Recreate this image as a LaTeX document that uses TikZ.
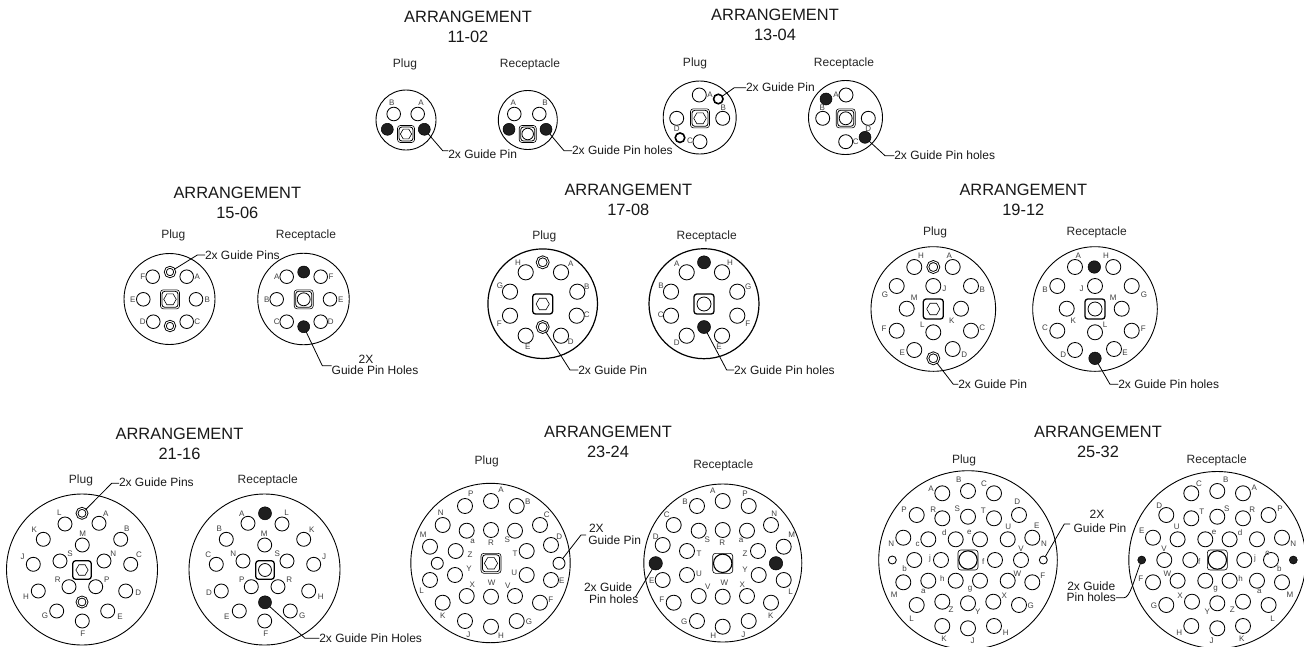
\documentclass[tikz,border=0pt]{standalone}
\usepackage{fontspec}
\setmainfont{Liberation Sans}
\usetikzlibrary{shapes.geometric}
\def\psz{14.6pt}
\tikzset{
  basecirc/.style={circle,inner sep=0pt,outer sep=0pt,draw=black},
  shell/.style={basecirc,line width=0.9pt},
  pinc/.style={basecirc,line width=0.85pt,minimum size=\psz},
  ghole/.style={basecirc,fill=black!88,line width=0.5pt,minimum size=#1},
  gring/.style={basecirc,line width=0.9pt,double=white,double distance=0.9pt,minimum size=#1},
  gthick/.style={basecirc,line width=1.6pt,minimum size=#1},
  gsmall/.style={basecirc,line width=0.85pt,minimum size=#1},
  pinlab/.style={inner sep=0pt,text=black!75,font=\fontsize{8}{8}\selectfont},
  title/.style={inner sep=0pt,text=black!90,align=center,font=\fontsize{16.4}{20}\selectfont},
  sublab/.style={inner sep=0pt,text=black!85,font=\fontsize{12}{12}\selectfont},
  note/.style={inner sep=0pt,outer sep=0pt,anchor=west,text=black!90,font=\fontsize{12}{12}\selectfont},
  notec/.style={inner sep=0pt,outer sep=0pt,anchor=center,text=black!90,font=\fontsize{12}{12}\selectfont},
  leader/.style={line width=0.8pt,draw=black},
  sqd/.style={rectangle,rounded corners=2.8pt,inner sep=0pt,outer sep=0pt,draw=black,line width=#1},
  hexa/.style={regular polygon,regular polygon sides=6,inner sep=0pt,outer sep=0pt,draw=black,line width=0.6pt,minimum size=#1},
  innerc/.style={basecirc,line width=0.8pt,minimum size=#1},
}
% list of pins: letter/x/y
\newcommand{\pinset}[2]{\foreach \pl/\px/\py in #2 {\node[pinc] (#1\pl) at (\px,\py) {};}}
% mirrored about x = M/2
\newcommand{\mpinset}[3]{\foreach \pl/\px/\py in #3 {\pgfmathsetmacro{\qx}{#2-\px}\node[pinc] (#1\pl) at (\qx,\py) {};}}
\newcommand{\labset}[2]{\foreach \pl/\px/\py in #2 {\node[pinlab] (#1\pl t) at (\px,\py) {\pl};}}
% centre inserts
\newcommand{\plugcore}[4]{% name,x,y,size
  \node[sqd=1.3pt,minimum size=#4] (#1o) at (#2,#3) {};
  \node[hexa=0.66*#4] (#1h) at (#2,#3) {};}
\newcommand{\plugcored}[4]{%
  \node[sqd=0.6pt,minimum size=#4] (#1o) at (#2,#3) {};
  \node[sqd=0.8pt,minimum size=#4-3pt] (#1i) at (#2,#3) {};
  \node[hexa=0.66*#4] (#1h) at (#2,#3) {};}
\newcommand{\reccore}[4]{%
  \node[sqd=0.6pt,minimum size=#4] (#1o) at (#2,#3) {};
  \node[sqd=0.8pt,minimum size=#4-3pt] (#1i) at (#2,#3) {};
  \node[innerc=0.68*#4] (#1h) at (#2,#3) {};}
\newcommand{\reccoret}[4]{%
  \node[sqd=1.3pt,minimum size=#4] (#1o) at (#2,#3) {};
  \node[innerc=0.7*#4] (#1h) at (#2,#3) {};}
\newcommand{\bigcore}[4]{%
  \node[sqd=0.6pt,minimum size=#4] (#1o) at (#2,#3) {};
  \node[innerc=0.92*#4,line width=1.1pt] (#1h) at (#2,#3) {};}

\def\pinsPXXI{A/99/523.3,L/65/524,K/43.3/539.3,M/82.3/545,B/120.7/539.3,J/33.3/564.3,S/60/561,N/104/561,C/130.7/564.3,R/69/586.7,P/95.7/586.7,H/38.3/591,D/125.7/591,G/56.7/611,E/107.7/611,F/82.3/621}
\def\pinsPXXIII{A/491/501,P/465/506,B/516.7/506,N/442.7/525,C/540/525,a/466.7/530.7,R/491/530,S/515/530.7,M/430/546.7,D/551/545,Z/455.7/551,T/526.7/551,Y/455/575,U/526.7/575,L/430/580,E/551/580,X/466.7/596,W/491/596.7,V/515/596,K/442.7/602.7,F/540/602.7,J/465/621,G/516.7/621,H/491/626.7}
\def\pinsPXXV{A/942.3/493.3,B/968/491,C/994/493.3,D/1019/515,P/916.7/515,R/942.3/518.3,S/968/516.7,T/994/518.3,N/903.3/537.7,c/928.3/539.3,d/955.7/539.3,e/980/539.3,U/1007.7/539.3,E/1032.3/537.7,b/914.3/560,j/941/560,f/995/560,V/1021/560,M/903.3/582.3,a/928.3/580.7,h/955.7/580.7,g/980/580.7,W/1007.7/580.7,F/1032.3/582.3,L/916.7/605,Z/942.3/601.7,Y/968/603.3,X/993.3/601.7,G/1019/605,K/942.3/626,J/968/628.3,H/994/626}

\begin{document}
\begin{tikzpicture}[x=1pt,y=-1pt]
\useasboundingbox (0,0) rectangle (1304,646);
\clip (0,0) rectangle (1304,646);
\fill[white] (0,0) rectangle (1304,646);

%%%%%%%% 11-02
\def\psz{13.6pt}
\node[title] (t11) at (468,27) {ARRANGEMENT\\11-02};
\node[sublab] (t11p) at (405,64) {Plug};
\node[sublab] (t11r) at (530,64.5) {Receptacle};
\node[shell,minimum size=60pt] (s11p) at (406,120) {};
\pinset{p11}{{B/393.7/114,A/417.7/114}}
\labset{lp11}{{B/391.7/102.3,A/421/102.3}}
\node[ghole=12pt] (g11a) at (387.3,129.3) {};
\node[ghole=12pt] (g11b) at (424.3,129.3) {};
\plugcored{c11p}{406}{134}{17pt}
\node[note] (n11p) at (448.3,154) {2x Guide Pin};
\coordinate (b11p) at (442.7,150.7);
\draw[leader] (g11b) -- (b11p) -- (b11p -| n11p.west);
\node[shell,minimum size=59pt] (s11r) at (527.8,120) {};
\pinset{r11}{{A/514.3/114,B/539.3/114}}
\labset{lr11}{{A/513.3/102.3,B/545/102.3}}
\node[ghole=12pt] (h11a) at (509,129.3) {};
\node[ghole=12pt] (h11b) at (546,129.3) {};
\reccore{c11r}{527.7}{134}{17pt}
\node[note] (n11r) at (572,150) {2x Guide Pin holes};
\coordinate (b11r) at (564,150.7);
\draw[leader] (h11b) -- (b11r) -- (b11r -| n11r.west);

%%%%%%%% 13-04
\def\psz{14pt}
\node[title] (t13) at (775,25) {ARRANGEMENT\\13-04};
\node[sublab] (t13p) at (695,63.3) {Plug};
\node[sublab] (t13r) at (844,63.3) {Receptacle};
\node[shell,minimum size=73pt] (s13p) at (699.7,117.5) {};
\pinset{p13}{{A/699.3/95,B/722.7/118.3,D/676.7/118.3,C/700/141.7}}
\labset{lp13}{{A/710/95,B/723.3/107.3,D/676.7/129,C/690/141}}
\node[gthick=9.5pt] (g13a) at (718.3,99) {};
\node[gthick=9.5pt] (g13b) at (680,137.7) {};
\plugcored{c13p}{700}{118.3}{19pt}
\node[note] (n13p) at (746,87.7) {2x Guide Pin};
\coordinate (b13p) at (734.3,87.7);
\draw[leader] (g13a) -- (b13p) -- (b13p -| n13p.west);
\node[shell,minimum size=74pt] (s13r) at (845.5,117.5) {};
\pinset{r13}{{A/846/95,B/822.7/118.3,D/868.3/118.3,C/845.7/141.7}}
\labset{lr13}{{A/836/95,B/822.3/107.3,D/868.3/128.3,C/855.7/141.7}}
\node[ghole=12pt] (h13a) at (826,99) {};
\node[ghole=12pt] (h13b) at (865,137.3) {};
\reccore{c13r}{845.7}{118.3}{19pt}
\node[note] (n13r) at (894.3,155.7) {2x Guide Pin holes};
\coordinate (b13r) at (885,155.7);
\draw[leader] (h13b) -- (b13r) -- (b13r -| n13r.west);

%%%%%%%% 15-06
\def\psz{13.6pt}
\node[title] (t15) at (237.3,203.3) {ARRANGEMENT\\15-06};
\node[sublab] (t15p) at (173.3,235) {Plug};
\node[sublab] (t15r) at (306,235) {Receptacle};
\node[shell,minimum size=91pt] (s15p) at (169.5,299) {};
\pinset{p15}{{F/152.7/276.7,A/186.7/276.7,E/143.3/299.3,B/196/299.3,D/153.3/321.7,C/186.7/321.7}}
\labset{lp15}{{F/142.7/276.7,A/197.3/276.7,E/132.7/299.3,B/207.3/299.3,D/142.7/321.7,C/197.3/321.7}}
\node[gring=9.5pt] (g15a) at (170,272) {};
\node[gring=9.5pt] (g15b) at (170,326) {};
\plugcored{c15p}{170}{299.3}{19pt}
\node[note] (n15p) at (205,255) {2x Guide Pins};
\coordinate (b15p) at (197.3,255);
\draw[leader] (g15a) -- (b15p) -- (b15p -| n15p.west);
\node[shell,minimum size=91.5pt] (s15r) at (303.5,299) {};
\pinset{r15}{{A/286.7/276.7,F/320.7/276.7,B/276.7/299.3,E/330/299.3,C/286.7/321.7,D/320.7/321.7}}
\labset{lr15}{{A/276.7/276.7,F/331/276.7,B/266.7/299.3,E/340.7/299.3,C/276.7/321.7,D/330.7/321.7}}
\node[ghole=12pt] (h15a) at (303.7,272) {};
\node[ghole=12pt] (h15b) at (303.7,326.7) {};
\reccore{c15r}{303.7}{299.3}{19pt}
\node[notec] (n15x) at (366,359) {2X};
\node[note] (n15r) at (331.7,370.7) {Guide Pin Holes};
\coordinate (b15r) at (322.3,365.7);
\draw[leader] (h15b) -- (b15r) -- (b15r -| n15r.west);

%%%%%%%% 17-08
\def\psz{15.2pt}
\node[title] (t17) at (628.3,200.3) {ARRANGEMENT\\17-08};
\node[sublab] (t17p) at (544.3,236) {Plug};
\node[sublab] (t17r) at (706.7,236) {Receptacle};
\node[shell,line width=1.2pt,minimum size=109.6pt] (s17p) at (542.7,303.7) {};
\pinset{p17}{{H/525.7/272.3,A/561/272.3,G/510/291.7,B/577.3/291.7,F/510/315.7,C/576.7/315.7,E/525.7/335.7,D/561/335.7}}
\labset{lp17}{{H/518/262.7,A/570.7/263.3,G/500/286,B/586.7/286.7,F/499.3/324,C/586.7/315,E/527.7/346.7,D/570.7/341.7}}
\node[gring=11pt] (g17a) at (542.7,262.3) {};
\node[gring=11pt] (g17b) at (542.7,327) {};
\plugcore{c17p}{542.7}{304}{20pt}
\node[note] (n17p) at (578.3,370) {2x Guide Pin};
\coordinate (b17p) at (570,370);
\draw[leader] (g17b) -- (b17p) -- (b17p -| n17p.west);
\node[shell,line width=1.2pt,minimum size=110pt] (s17r) at (704,303.7) {};
\pinset{r17}{{A/686.7/272.3,H/722/272.3,B/671/291.7,G/737.3/291.7,C/671/315.7,F/737.3/315.7,D/686.7/335.7,E/722/335.7}}
\labset{lr17}{{A/676.7/263.3,H/730/262.7,B/661/286,G/748.3/286.7,C/660.7/314.3,F/747.7/324,D/676.7/342.3,E/719/346.7}}
\node[ghole=13pt] (h17a) at (704,262.3) {};
\node[ghole=13pt] (h17b) at (704,327) {};
\reccoret{c17r}{704}{304}{20pt}
\node[note] (n17r) at (734,370) {2x Guide Pin holes};
\coordinate (b17r) at (726.7,370);
\draw[leader] (h17b) -- (b17r) -- (b17r -| n17r.west);

%%%%%%%% 19-12
\def\psz{15pt}
\node[title] (t19) at (1023.3,199.5) {ARRANGEMENT\\19-12};
\node[sublab] (t19p) at (935,232.3) {Plug};
\node[sublab] (t19r) at (1096.7,232.3) {Receptacle};
\node[shell,minimum size=124.6pt] (s19p) at (933.3,309) {};
\pinset{p19}{{H/914.3/267,A/952.7/267,G/896.7/286,J/933.3/286,B/971/286,M/906.7/308.7,K/961/308.7,F/896.7/330.7,L/933.3/332.3,C/971/330.7,E/914.3/350,D/952.7/349}}
\labset{lp19}{{H/921/256,A/949.3/256,G/885/294.3,J/944.3/288.3,B/982.3/290,M/914.3/297.7,K/951.7/320.3,F/884/328.7,L/922.3/325,C/982.3/327.7,E/902.3/352.7,D/964.3/355}}
\node[gring=11pt] (g19a) at (933.3,267) {};
\node[gring=11pt] (g19b) at (933.3,358.3) {};
\plugcore{c19p}{933.3}{309}{20pt}
\node[note] (n19p) at (958.3,384) {2x Guide Pin};
\coordinate (b19p) at (953.3,384.3);
\draw[leader] (g19b) -- (b19p) -- (b19p -| n19p.west);
\node[shell,minimum size=124.6pt] (s19r) at (1095,309) {};
\pinset{r19}{{A/1075/267,H/1113.3/267,B/1057.3/286,J/1095/286,G/1131.7/286,K/1066.7/308.7,M/1121.7/308.7,C/1057.3/330.7,L/1095/332.3,F/1131.7/330.7,D/1075/350,E/1114/349}}
\labset{lr19}{{A/1078.3/256,H/1106/256,B/1045/290,J/1081.7/288.3,G/1144/294.3,M/1113.3/297.7,K/1073.3/320.3,C/1045/327.7,L/1105/325,F/1143.3/328.7,D/1063.3/355,E/1125/352.7}}
\node[ghole=12.5pt] (h19a) at (1094.3,267) {};
\node[ghole=12.5pt] (h19b) at (1095,358.3) {};
\reccoret{c19r}{1095}{309}{20pt}
\node[note] (n19r) at (1118.3,384) {2x Guide Pin holes};
\coordinate (b19r) at (1110,384.3);
\draw[leader] (h19b) -- (b19r) -- (b19r -| n19r.west);

%%%%%%%% 21-16
\def\psz{14pt}
\node[title] (t21) at (179.5,443.5) {ARRANGEMENT\\21-16};
\node[sublab] (t21p) at (81,480) {Plug};
\node[sublab] (t21r) at (267.7,480.7) {Receptacle};
\node[shell,minimum size=151pt] (s21p) at (82,569.5) {};
\pinset{p21}{\pinsPXXI}
\labset{lp21}{{L/59.3/512.3,A/105.7/513.3,K/34.3/529.3,B/126.7/529,M/82.7/534,J/22.7/556.7,S/70/554,N/113.3/554,C/139/555,R/57.7/580,P/106.7/579.3,H/26/596.7,D/138.3/592.7,G/45/616,E/120/616.7,F/82.7/634}}
\node[gring=10pt] (g21a) at (82,513.3) {};
\node[gring=10pt] (g21b) at (82,602) {};
\plugcore{c21p}{82}{570}{18.5pt}
\node[note] (n21p) at (119,482.7) {2x Guide Pins};
\coordinate (b21p) at (111.7,483.3);
\draw[leader] (g21a) -- (b21p) -- (b21p -| n21p.west);
\node[shell,minimum size=151pt] (s21r) at (264.5,569.5) {};
\mpinset{r21}{347}{\pinsPXXI}
\labset{lr21}{{A/241.7/513.3,L/286.7/512.3,B/219.3/529,K/311.7/529.3,M/264.3/534,C/208.3/555,N/233.3/554,S/277.3/554,J/324/556.7,P/241.7/579.3,R/289.3/580,D/209/592.7,H/320.7/596.7,E/226.7/616.7,G/302.3/616,F/265.7/634}}
\node[ghole=13pt] (h21a) at (265,513.3) {};
\node[ghole=13pt] (h21b) at (265,602.3) {};
\reccoret{c21r}{265}{570}{18.5pt}
\node[note] (n21r) at (319.3,638) {2x Guide Pin Holes};
\coordinate (b21r) at (305,638.3);
\draw[leader] (h21b) -- (b21r) -- (b21r -| n21r.west);

%%%%%%%% 23-24
\def\psz{15pt}
\node[title] (t23) at (608,442) {ARRANGEMENT\\23-24};
\node[sublab] (t23p) at (486.7,461) {Plug};
\node[sublab] (t23r) at (723.3,465) {Receptacle};
\node[shell,minimum size=159.4pt] (s23p) at (490.5,563) {};
\pinset{p23}{\pinsPXXIII}
\labset{lp23}{{A/501/490,P/470.7/494,B/527.7/501.7,N/440.7/512.3,C/546.7/515,a/472.7/541.7,R/491/542.7,S/507.3/540,M/423.3/535,D/559.3/536.7,Z/470/554.3,T/515/554,Y/469/569,U/514.3/572.7,L/421.7/590.7,E/561.7/581,X/472.3/585,W/491.7/582.3,V/507.7/586,K/442.7/615.7,F/550.7/600,J/468.3/634.3,G/529/621.7,H/501/636}}
\node[gsmall=12pt] (g23a) at (437.3,563.3) {};
\node[gsmall=12pt] (g23b) at (559,563.3) {};
\plugcored{c23p}{491}{563.3}{20pt}
\node[note] (n23x) at (589,528) {2X};
\node[note] (n23p) at (588.3,540) {Guide Pin};
\coordinate (b23p) at (581,535);
\draw[leader] (g23b) -- (b23p) -- (586,535);
\node[shell,minimum size=158pt] (s23r) at (722.8,563) {};
\mpinset{r23}{1213.7}{\pinsPXXIII}
\labset{lr23}{{A/712.7/490.7,P/745/494,B/685/501.7,N/774.3/513.3,C/666.7/515,a/741/540.7,R/722.3/542.3,S/707.3/540,M/791.7/535,D/655.7/536.7,Z/745/554,T/699/554,Y/745/569.3,U/699/573.3,L/790.7/591.7,E/651.7/581,X/742.3/585,W/724.3/582.3,V/707.7/586.7,K/770.7/615.7,F/661.7/600,J/743.3/634.3,G/684.3/621.7,H/713.3/636}}
\node[ghole=13.4pt] (h23a) at (655.7,563.3) {};
\node[ghole=13.4pt] (h23b) at (776,563.3) {};
\bigcore{c23r}{722.7}{563.3}{20pt}
\node[note] (n23h) at (584,587.7) {2x Guide};
\node[note] (n23r) at (589,599) {Pin holes};
\coordinate (b23r) at (635.5,597);
\draw[leader] (h23a) -- (b23r);

%%%%%%%% 25-32
\def\psz{15pt}
\node[title] (t25) at (1098,442) {ARRANGEMENT\\25-32};
\node[sublab] (t25p) at (964,460) {Plug};
\node[sublab] (t25r) at (1216.7,460) {Receptacle};
\node[shell,minimum size=178.6pt] (s25p) at (968,560) {};
\pinset{p25}{\pinsPXXV}
\labset{lp25}{{A/931/488.3,B/958.7/480,C/984/484,D/1017.3/501.7,P/904/509.3,R/933.3/510,S/957.3/509,T/983.3/511,N/891.3/544,c/917.7/544,d/944.3/532.3,e/969.3/532.3,U/1008.3/526.7,E/1036.7/525.3,b/904.7/568.3,j/930/558.3,f/983.3/561.7,V/1021/548.7,a/923.3/591,h/942.3/579,g/970/589,W/1017.3/573.3,F/1042.7/575.7,M/894.3/594.3,L/911.7/618.3,Z/951/610,Y/977.7/611.7,X/1004.3/596,G/1030.7/606,K/944/639,J/972.7/641,H/1005.7/632.3}}
\node[pinlab] (lp25Nb) at (1044,544) {N};
\node[gsmall=8pt] (g25a) at (892.3,560) {};
\node[gsmall=8pt] (g25b) at (1043.3,560) {};
\bigcore{c25p}{968}{560}{20pt}
\node[notec] (n25x) at (1097,514.5) {2X};
\node[notec] (n25p) at (1100,528.5) {Guide Pin};
\coordinate (b25p) at (1064.3,524);
\draw[leader] (g25b) -- (b25p) -- (1070,524);
\node[shell,minimum size=177pt] (s25r) at (1217.3,560) {};
\mpinset{r25}{2185.3}{\pinsPXXV}
\labset{lr25}{{C/1199/484,B/1225.7/480,A/1254.3/487.7,D/1159.3/506,T/1201.7/511.7,S/1226.7/509,R/1252.3/510,P/1280/508.3,E/1141.7/530.7,U/1176.7/526.7,e/1214/532.3,d/1240/532.3,c/1267.3/553.3,N/1293.3/544,V/1164/548.3,f/1199.3/561.7,j/1255/558.3,b/1279.3/568.3,W/1167.3/573.3,F/1140.7/579,g/1215.7/589,h/1240.7/579,a/1259.3/591,M/1290/594.3,X/1180/595.7,Y/1207.3/611.7,Z/1232.3/610,L/1272.7/618.3,G/1154/606,H/1179.3/632.3,J/1211.7/641,K/1241.7/638.3}}
\node[ghole=8pt] (h25a) at (1141.7,560) {};
\node[ghole=8pt] (h25b) at (1293.3,560) {};
\bigcore{c25r}{1217.3}{560}{20pt}
\node[notec] (n25h) at (1091.3,586.7) {2x Guide};
\node[notec] (n25r) at (1091.3,597.7) {Pin holes};
\draw[leader] (h25a) .. controls (1134,580) and (1130,597.7) .. (1124,597.7) -- (n25r.east);
\end{tikzpicture}
\end{document}
